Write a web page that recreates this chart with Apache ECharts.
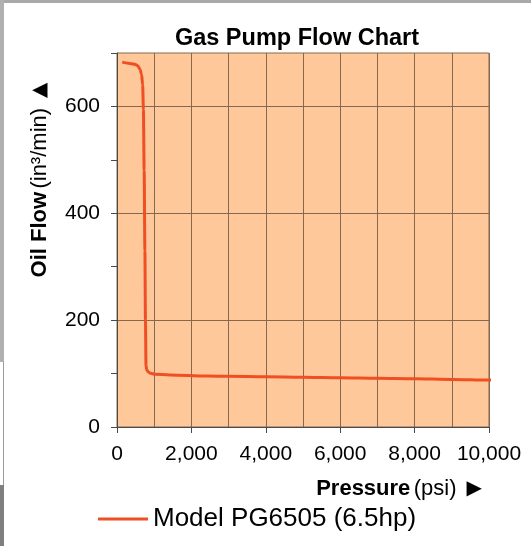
<!DOCTYPE html>
<html lang="en">
<head>
    <meta charset="UTF-8">
    <title>Gas Pump Flow Chart</title>
    <script src="https://cdn.jsdelivr.net/npm/echarts@6/dist/echarts.min.js"></script>
    <style>
        html, body { margin: 0; padding: 0; background: #fff; }
    </style>
</head>
<body>
    <div id="main" style="width: 531px; height: 546px;"></div>

    <script>
        // Values
        var seriesName = 'Model PG6505 (6.5hp)';
        var pressure = [140, 300, 480, 560, 620, 660, 690, 710, 730, 750, 765, 780, 800, 840, 900, 1020, 1420, 2410, 3000, 4000, 5000, 6000, 7000, 8000, 9000, 10000, 10150];
        var oilFlow  = [683, 681, 679, 676, 669, 660, 640, 594, 480, 330, 200, 115, 107, 103, 100.5, 98.7, 97.5, 95.6, 94.8, 94.0, 93.2, 92.2, 91.2, 90.2, 89.1, 88, 87.8];

        var font = '"Liberation Sans", Arial, sans-serif';
        var gridColor = '#86684f';

        var chart = echarts.init(document.getElementById('main'));

        var option = {
            backgroundColor: '#ffffff',
            animation: false,
            title: {
                text: 'Gas Pump Flow Chart',
                left: 292,
                top: 22,
                textAlign: 'center',
                textStyle: { fontFamily: font, fontSize: 23.5, fontWeight: 'bold', color: '#000' }
            },
            legend: {
                data: [seriesName],
                icon: 'rect',
                left: 98,
                top: 506,
                padding: 0,
                itemWidth: 50,
                itemHeight: 3,
                textStyle: { fontFamily: font, fontSize: 26, color: '#000' }
            },
            grid: {
                left: 117, top: 53, right: 42, bottom: 119,
                outerBoundsMode: 'none',
                show: true,
                backgroundColor: '#fec89a',
                borderColor: gridColor,
                borderWidth: 1
            },
            xAxis: {
                type: 'value',
                min: 0,
                max: 10000,
                interval: 2000,
                axisLine: { lineStyle: { color: '#4a4a4a', width: 1 } },
                axisTick: { show: true, length: 6, lineStyle: { color: '#4a4a4a' } },
                minorTick: { show: false, splitNumber: 2 },
                splitLine: { show: true, lineStyle: { color: gridColor, width: 1 } },
                minorSplitLine: { show: true, lineStyle: { color: gridColor, width: 1 } },
                axisLabel: { margin: 17, fontFamily: font, fontSize: 21, color: '#000' }
            },
            yAxis: {
                type: 'value',
                min: 0,
                max: 700,
                interval: 100,
                axisLine: { show: true, lineStyle: { color: '#4a4a4a', width: 1 } },
                axisTick: { show: true, length: 6, lineStyle: { color: '#4a4a4a' } },
                splitLine: { show: true, lineStyle: { color: [gridColor, 'transparent'], width: 1 } },
                axisLabel: {
                    margin: 17,
                    fontFamily: font, fontSize: 21, color: '#000',
                    formatter: function (v) { return v % 200 === 0 ? String(v) : ''; }
                }
            },
            series: [{
                name: seriesName,
                type: 'line',
                data: pressure.map(function (p, i) { return [p, oilFlow[i]]; }),
                symbol: 'none',
                smooth: 0.3,
                smoothMonotone: 'x',
                clip: false,
                lineStyle: { color: '#f04e23', width: 3 },
                itemStyle: { color: '#f04e23' }
            }],
            graphic: [
                // window frame strips
                { type: 'rect', left: 0, top: 0, shape: { width: 531, height: 3 }, style: { fill: '#a9a9a9' } },
                { type: 'rect', left: 0, top: 0, shape: { width: 4, height: 362 }, style: { fill: '#b0b0b0' } },
                { type: 'rect', left: 3, top: 362, shape: { width: 1, height: 123 }, style: { fill: '#9a9a9a' } },
                { type: 'rect', left: 0, top: 485, shape: { width: 4, height: 61 }, style: { fill: '#7f7f7f' } },
                // axis titles
                {
                    type: 'text',
                    x: 40, y: 180,
                    rotation: Math.PI / 2,
                    style: {
                        text: '{b|Oil Flow} {r|(in³/min)}   {a|▲}',
                        align: 'center',
                        verticalAlign: 'middle',
                        rich: {
                            b: { fontFamily: font, fontSize: 22, fontWeight: 'bold', fill: '#000' },
                            r: { fontFamily: font, fontSize: 22, fill: '#000' },
                            a: { fontFamily: 'DejaVu Sans', fontSize: 20, fill: '#000' }
                        }
                    }
                },
                {
                    type: 'text',
                    x: 399, y: 489,
                    style: {
                        text: '{b|Pressure} {r|(psi)}   {a|▶}',
                        align: 'center',
                        verticalAlign: 'middle',
                        rich: {
                            b: { fontFamily: font, fontSize: 22, fontWeight: 'bold', fill: '#000' },
                            r: { fontFamily: font, fontSize: 22, fill: '#000' },
                            a: { fontFamily: 'DejaVu Sans', fontSize: 20, fill: '#000' }
                        }
                    }
                }
            ]
        };

        chart.setOption(option);
    </script>
</body>
</html>
